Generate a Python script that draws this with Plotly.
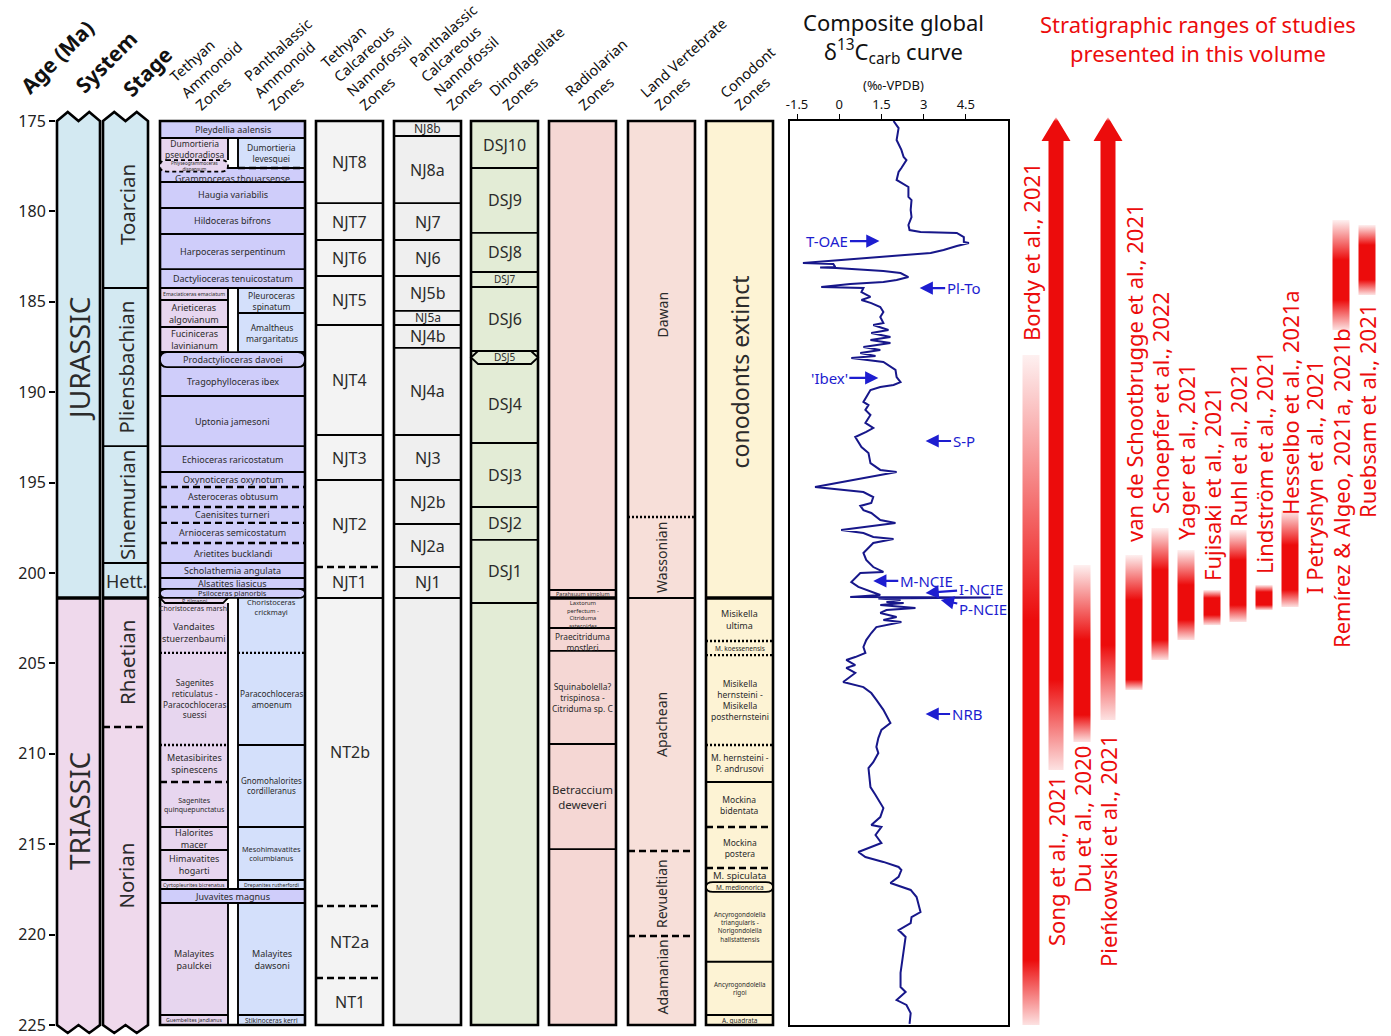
import math
import plotly.graph_objects as go

W, H = 1391, 1036

# ---------------------------------------------------------------- data
age_ticks = [175, 180, 185, 190, 195, 200, 205, 210, 215, 220, 225]
d13c_ticks = [-1.5, 0, 1.5, 3, 4.5]
d13c_tick_text = ["-1.5", "0", "1.5", "3", "4.5"]

# boundary codes: s solid, S heavy, d dashed, o dotted, n none
systems = [("JURASSIC", 175.0, 201.38), ("TRIASSIC", 201.38, 225.0)]
stages = [("Toarcian", 175.0, 184.24, "s"), ("Pliensbachian", 184.24, 192.98, "s"),
          ("Sinemurian", 192.98, 199.45, "s"), ("Hett.", 199.45, 201.38, "S"),
          ("Rhaetian", 201.38, 208.52, "d"), ("Norian", 208.52, 225.0, "s")]

amm_full = [
    ("Pleydellia aalensis", 175.0, 175.94, "s"),
    ("Grammoceras thouarsense", 177.6, 178.37, "s"),
    ("Haugia variabilis", 178.37, 179.81, "s"),
    ("Hildoceras bifrons", 179.81, 181.25, "s"),
    ("Harpoceras serpentinum", 181.25, 183.19, "s"),
    ("Dactylioceras tenuicostatum", 183.19, 184.24, "s"),
    ("Prodactylioceras davoei", 187.78, 188.61, "s"),
    ("Tragophylloceras ibex", 188.61, 190.21, "s"),
    ("Uptonia jamesoni", 190.21, 192.98, "s"),
    ("Echioceras raricostatum", 192.98, 194.41, "s"),
    ("Oxynoticeras oxynotum", 194.41, 195.24, "d"),
    ("Asteroceras obtusum", 195.24, 196.35, "d"),
    ("Caenisites turneri", 196.35, 197.23, "d"),
    ("Arnioceras semicostatum", 197.23, 198.34, "d"),
    ("Arietites bucklandi", 198.34, 199.45, "s"),
    ("Scholathemia angulata", 199.45, 200.28, "s"),
    ("Alsatites liasicus", 200.28, 200.88, "s"),
    ("Psiloceras planorbis", 200.88, 201.38, "s"),
    ("Juvavites magnus", 217.48, 218.25, "s"),
]
amm_tethyan = [
    ("Dumortieria<br>pseudoradiosa", 175.94, 177.16, "n"),
    ("Phlyseogrammoceras<br>dispansum", 177.16, 177.8, "n"),
    ("Emaciaticeras emaciatum", 184.24, 184.9, "s"),
    ("Arieticeras<br>algovianum", 184.9, 186.39, "s"),
    ("Fuciniceras<br>lavinianum", 186.39, 187.78, "s"),
    ("P. tilmanni", 201.38, 201.66, "s"),
    ("Choristoceras marshi", 201.66, 202.16, "n"),
    ("Vandaites<br>stuerzenbaumi", 202.16, 204.42, "o"),
    ("Sagenites<br>reticulatus -<br>Paracochloceras<br>suessi", 204.42, 209.51, "o"),
    ("Metasibirites<br>spinescens", 209.51, 211.56, "d"),
    ("Sagenites<br>quinquepunctatus", 211.56, 214.05, "s"),
    ("Halorites<br>macer", 214.05, 215.32, "s"),
    ("Himavatites<br>hogarti", 215.32, 216.98, "s"),
    ("Cyrtopleurites bicrenatus", 216.98, 217.48, "s"),
    ("Malayites<br>paulckei", 218.25, 224.45, "s"),
    ("Guembelites jandianus", 224.45, 225.0, "s"),
]
amm_panth = [
    ("Dumortieria<br>levesquei", 175.94, 177.6, "d"),
    ("Pleuroceras<br>spinatum", 184.24, 185.62, "s"),
    ("Amaltheus<br>margaritatus", 185.62, 187.78, "s"),
    ("Choristoceras<br>crickmayi", 201.38, 204.42, "o"),
    ("Paracochloceras<br>amoenum", 204.42, 209.51, "s"),
    ("Gnomohalorites<br>cordilleranus", 209.51, 214.05, "s"),
    ("Mesohimavatites<br>columbianus", 214.05, 216.98, "s"),
    ("Drepanites rutherfordi", 216.98, 217.48, "s"),
    ("Malayites<br>dawsoni", 218.25, 224.45, "s"),
    ("Stikinoceras kerri", 224.45, 225.0, "s"),
]
nanno_tethyan = [
    ("NJT8", 175.0, 179.54, "s"), ("NJT7", 179.54, 181.58, "s"), ("NJT6", 181.58, 183.57, "s"),
    ("NJT5", 183.57, 186.28, "s"), ("NJT4", 186.28, 192.37, "s"), ("NJT3", 192.37, 194.86, "s"),
    ("NJT2", 194.86, 199.67, "d"), ("NJT1", 199.67, 201.38, "s"), ("NT2b", 201.38, 218.42, "d"),
    ("NT2a", 218.42, 222.4, "d"), ("NT1", 222.4, 225.0, "s"),
]
nanno_panth = [
    ("NJ8b", 175.0, 175.83, "s"), ("NJ8a", 175.83, 179.54, "s"), ("NJ7", 179.54, 181.58, "s"),
    ("NJ6", 181.58, 183.57, "s"), ("NJ5b", 183.57, 185.5, "s"), ("NJ5a", 185.5, 186.28, "s"),
    ("NJ4b", 186.28, 187.55, "s"), ("NJ4a", 187.55, 192.37, "s"), ("NJ3", 192.37, 194.86, "s"),
    ("NJ2b", 194.86, 197.29, "s"), ("NJ2a", 197.29, 199.67, "s"), ("NJ1", 199.67, 201.38, "s"),
]
dino = [
    ("DSJ10", 175.0, 177.6, "s"), ("DSJ9", 177.6, 181.19, "s"), ("DSJ8", 181.19, 183.35, "s"),
    ("DSJ7", 183.35, 184.18, "s"), ("DSJ6", 184.18, 187.72, "s"), ("DSJ5", 187.72, 188.44, "s"),
    ("DSJ4", 188.44, 192.81, "s"), ("DSJ3", 192.81, 196.35, "s"), ("DSJ2", 196.35, 198.17, "s"),
    ("DSJ1", 198.17, 201.66, "s"),
]
radiolarian = [
    ("Parahsuum simplum", 200.94, 201.38, "S"),
    ("Laxtorum<br>perfectum -<br>Citriduma<br>asteroides", 201.38, 203.04, "s"),
    ("Praecitriduma<br>mostleri", 203.04, 204.31, "s"),
    ("Squinabolella?<br>trispinosa -<br>Citriduma sp. C", 204.31, 209.46, "s"),
    ("Betraccium<br>deweveri", 209.46, 215.27, "s"),
]
land_vertebrate = [
    ("Dawan", 175.0, 196.9, "o"), ("Wassonian", 196.9, 201.38, "s"),
    ("Apachean", 201.38, 215.38, "d"), ("Revueltian", 215.38, 220.08, "d"),
    ("Adamanian", 220.08, 225.0, "s"),
]
conodont = [
    ("conodonts extinct", 175.0, 201.38, "S"),
    ("Misikella<br>ultima", 201.38, 203.76, "o"),
    ("M. koessenensis", 203.76, 204.54, "o"),
    ("Misikella<br>hernsteini -<br>Misikella<br>posthernsteini", 204.54, 209.51, "o"),
    ("M. hernsteini -<br>P. andrusovi", 209.51, 211.56, "s"),
    ("Mockina<br>bidentata", 211.56, 214.05, "d"),
    ("Mockina<br>postera", 214.05, 216.32, "d"),
    ("M. spiculata", 216.32, 217.1, "n"),
    ("M. medionorica", 217.1, 217.64, "n"),
    ("Ancyrogondolella<br>triangularis -<br>Norigondolella<br>hallstattensis", 217.64, 221.5, "s"),
    ("Ancyrogondolella<br>rigoi", 221.5, 224.45, "s"),
    ("A. quadrata", 224.45, 225.0, "s"),
]

# composite carbonate carbon-isotope curve
curve_age = [
    175.00, 175.39, 176.05, 176.60, 176.99, 177.16, 177.60, 177.82, 178.26, 178.43,
    178.65, 179.20, 179.37, 179.92, 180.31, 180.75, 181.03, 181.14, 181.19, 181.42,
    181.69, 181.75, 181.91, 182.13, 182.30, 182.85, 182.91, 183.08, 183.10, 183.13,
    183.30, 183.41, 183.63, 183.79, 183.90, 184.02, 184.18, 184.24, 184.46, 184.73,
    184.90, 185.07, 185.29, 185.56, 185.84, 186.17, 186.28, 186.56, 186.73, 186.95,
    187.11, 187.28, 187.50, 187.67, 187.83, 188.00, 188.11, 188.33, 188.61, 188.77,
    189.16, 189.44, 189.60, 189.71, 189.88, 190.27, 190.54, 190.71, 190.98, 191.26,
    191.70, 191.98, 192.20, 192.48, 193.03, 193.36, 193.92, 194.30, 194.41, 195.24,
    195.52, 195.80, 196.13, 196.29, 196.52, 196.68, 197.07, 197.23, 197.62, 197.79,
    198.01, 198.12, 198.34, 198.89, 199.28, 199.67, 199.94, 200.00, 200.50, 200.77,
    201.05, 201.22, 201.33, 201.36, 201.41, 201.49, 201.60, 201.66, 201.77, 201.94,
    202.05, 202.21, 202.43, 202.60, 202.71, 202.99, 203.32, 203.71, 204.09, 204.42,
    204.65, 204.81, 205.09, 205.25, 205.53, 206.03, 206.31, 206.64, 207.02, 207.57,
    208.30, 208.68, 209.13, 209.62, 209.96, 210.46, 210.79, 211.84, 212.28, 213.00,
    213.50, 213.94, 214.05, 214.49, 214.93, 215.32, 215.43, 215.71, 215.98, 216.26,
    216.43, 216.81, 217.15, 217.53, 217.92, 218.75, 219.03, 219.36, 219.75, 220.13,
    221.02, 222.12, 222.90, 223.17, 223.62, 223.89, 224.34, 224.94,
]
curve_d13c = [
    1.93, 2.11, 2.04, 2.21, 2.29, 2.39, 2.21, 2.11, 2.04, 2.21,
    2.46, 2.46, 2.57, 2.54, 2.57, 2.46, 2.50, 2.89, 4.18, 4.43,
    4.43, 4.61, 4.18, 3.71, 3.25, -1.29, -0.21, -0.14, -0.68, -0.11,
    1.57, 2.18, 2.46, 2.04, 1.57, 0.39, -0.64, 0.86, 0.79, 1.11,
    0.79, 1.14, 1.46, 1.57, 1.46, 1.57, 1.21, 1.75, 1.14, 1.82,
    1.11, 1.82, 0.86, 1.46, 0.75, 1.29, 0.43, 1.57, 1.82, 2.00,
    2.04, 2.18, 1.93, 1.46, 1.11, 0.96, 0.86, 1.04, 0.93, 1.11,
    0.93, 1.21, 0.96, 0.57, 0.79, 1.04, 1.11, 1.46, 2.04, -0.86,
    0.86, 1.21, 1.14, 0.75, 0.86, 1.14, 1.46, 2.00, 0.07, 0.86,
    1.21, 1.93, 1.21, 0.86, 0.96, 1.21, 1.57, 0.75, 0.43, 0.68,
    1.21, 1.46, 0.39, 5.39, 1.39, 2.18, 1.68, 2.29, 1.46, 2.71,
    1.68, 1.46, 2.04, 1.57, 2.21, 1.32, 1.14, 0.96, 0.86, 0.93,
    0.57, 0.25, 0.57, 0.25, 0.57, 0.14, 0.86, 1.14, 1.32, 1.57,
    1.82, 1.50, 1.39, 1.32, 1.39, 1.21, 1.04, 1.11, 1.29, 1.57,
    1.46, 1.14, 1.50, 1.29, 1.50, 0.86, 0.68, 0.93, 1.57, 2.11,
    2.21, 2.11, 1.82, 2.54, 2.75, 2.89, 2.57, 2.54, 2.11, 2.36,
    2.29, 2.18, 2.18, 2.36, 2.04, 2.39, 2.54, 2.50,
]

event_labels = ["T-OAE", "Pl-To", "'Ibex'", "S-P", "M-NCIE", "I-NCIE", "P-NCIE", "NRB"]
event_age = [181.64, 184.24, 189.21, 192.70, 200.44, 201.10, 201.49, 207.80]
event_d13c = [1.43, 2.86, 1.39, 3.07, 1.21, 3.07, 3.61, 3.07]

study_names = ["Bordy et al., 2021", "Song et al., 2021", "Du et al., 2020",
               "Pieńkowski et al., 2021", "van de Schootbrugge et al., 2021",
               "Schoepfer et al., 2022", "Yager et al., 2021", "Fujisaki et al., 2021",
               "Ruhl et al., 2021", "Lindström et al., 2021", "Hesselbo et al., 2021a",
               "I Petryshyn et al., 2021", "Remírez & Algeo, 2021a, 2021b", "Ruebsam et al., 2021"]
study_top = [187.94, 175.0, 199.56, 175.0, 199.0, 197.51, 198.73, 200.94, 197.62, 200.66, 196.52, None, 180.48, 180.75]
study_full_from = [202.6, 175.0, 203.71, 175.0, 201.49, 199.83, 200.66, 201.38, 199.28, 201.05, 198.45, None, 182.69, 181.86]
study_full_to = [221.4, 205.9, 207.85, 204.0, 205.9, 203.71, 202.6, 202.32, 201.77, 201.77, 200.94, None, 184.9, 183.79]
study_base = [225.0, 210.9, 209.35, 208.13, 206.47, 204.81, 203.71, 202.88, 202.71, 202.05, 201.88, None, 186.56, 184.62]
study_open_top = [False, True, False, True, False, False, False, False, False, False, False, False, False, False]

# ---------------------------------------------------------------- layout helpers
FONT = "Noto Sans"
INK = "#2b2b2b"
BLUE = "#1d1dd0"
RED = "236,12,12"
CLEAR = "rgba(0,0,0,0)"

PX_TOP, PX_BASE = 121.0, 1025.0
AGE_TOP, AGE_BASE = 175.0, 225.0
SCALE = (PX_BASE - PX_TOP) / (AGE_BASE - AGE_TOP)


def A(p):
    """pixel row -> position on the shared age scale"""
    return AGE_TOP + (p - PX_TOP) / SCALE


shapes, notes = [], []
LINE_KINDS = {"s": (1.9, "solid"), "S": (3.4, "solid"), "d": (2.4, "7px,4px"), "o": (2.4, "2px,2px")}


def rect(x0, x1, a0, a1, fill=CLEAR, color=CLEAR, width=0):
    shapes.append(dict(type="rect", xref="x", yref="y", x0=x0, x1=x1, y0=a0, y1=a1,
                       fillcolor=fill, line=dict(color=color, width=width), layer="above"))


def path(d, fill=CLEAR, color=CLEAR, width=0, dash="solid"):
    shapes.append(dict(type="path", xref="x", yref="y", path=d, fillcolor=fill,
                       line=dict(color=color, width=width, dash=dash), layer="above"))


def seg(x0, a0, x1, a1, kind="s"):
    if kind not in LINE_KINDS:
        return
    w, dash = LINE_KINDS[kind]
    shapes.append(dict(type="line", xref="x", yref="y", x0=x0, y0=a0, x1=x1, y1=a1,
                       line=dict(color="black", width=w, dash=dash), layer="above"))


def note(x, a, txt, size, angle=0, color=INK):
    notes.append(dict(xref="x", yref="y", x=x, y=a, text=txt, showarrow=False, textangle=angle,
                      xanchor="center", yanchor="middle",
                      font=dict(family=FONT, size=size, color=color)))


def text_width(s, size):
    w = 0.0
    for ch in s:
        if ch in "ilIjt.,'|fr ":
            w += 0.31
        elif ch in "mwMW":
            w += 0.88
        elif ch.isupper():
            w += 0.66
        else:
            w += 0.57
    return w * size


def slanted_heading(lines, sx, sy, size, angle, spacing, color="#111111"):
    """left-aligned multi-line heading; (sx, sy) is where the last line starts"""
    th = math.radians(angle)
    ux, uy = math.cos(th), -math.sin(th)
    vx, vy = math.sin(th), math.cos(th)
    n = len(lines)
    for i, line in enumerate(lines):
        k = n - 1 - i
        x0, y0 = sx - k * spacing * vx, sy - k * spacing * vy
        half = text_width(line, size) / 2
        note(x0 + half * ux, A(y0 + half * uy), line, size, -angle, color)


OUTLINES = {"Prodactylioceras davoei": "cap", "Psiloceras planorbis": "cap",
            "Phlyseogrammoceras<br>dispansum": "cap-", "DSJ5": "hex",
            "M. medionorica": "cap", "P. tilmanni": "trap"}


def outline_path(style, x0, x1, a0, a1):
    am = (a0 + a1) / 2
    r = 7
    if style == "hex":
        return f"M {x0+r},{a0} L {x1-r},{a0} L {x1},{am} L {x1-r},{a1} L {x0+r},{a1} L {x0},{am} Z"
    if style == "trap":
        return f"M {x0},{a0} L {x1},{a0} L {x1-5},{a1} L {x0+5},{a1} Z"
    return (f"M {x0+r},{a0} L {x1-r},{a0} Q {x1},{a0} {x1},{am} Q {x1},{a1} {x1-r},{a1} "
            f"L {x0+r},{a1} Q {x0},{a1} {x0},{am} Q {x0},{a0} {x0+r},{a0} Z")


def draw_column(x0, x1, groups, background=None):
    """groups: (zones, gx0, gx1, fill, side_lines, full_width)"""
    if background:
        rect(x0, x1, AGE_TOP, AGE_BASE, background)
    all_bases = {round(z[2], 2) for g in groups for z in g[0]}
    for zones, gx0, gx1, fill, sides, full in groups:
        for name, top, base, kind in zones:
            if name not in OUTLINES:
                rect(gx0, gx1, top, base, fill)
    for zones, gx0, gx1, fill, sides, full in groups:
        known = {round(z[2], 2) for z in zones} if full else all_bases
        for name, top, base, kind in zones:
            if name in OUTLINES:
                continue
            if base < AGE_BASE - 0.01:
                seg(gx0, base, gx1, base, kind)
            if top > AGE_TOP + 0.01 and round(top, 2) not in known:
                seg(gx0, top, gx1, top, "s")
            for sx in sides:
                seg(sx, top, sx, base, "s")
    rect(x0, x1, AGE_TOP, AGE_BASE, color="black", width=2.6)
    for zones, gx0, gx1, fill, sides, full in groups:
        for name, top, base, kind in zones:
            if name in OUTLINES:
                style = OUTLINES[name]
                path(outline_path(style.rstrip("-"), gx0, gx1, top, base), fill, "black", 1.8,
                     "4px,3px" if style.endswith("-") else "solid")


def label_column(groups, default, sizes=None, rotated=(), nudges=None):
    sizes = sizes or {}
    nudges = nudges or {}
    for zones, gx0, gx1, fill, sides, full in groups:
        for name, top, base, kind in zones:
            a = nudges.get(name, (top + base) / 2)
            note((gx0 + gx1) / 2, a, name, sizes.get(name, default), -90 if name in rotated else 0)


# ---------------------------------------------------------------- system & stage columns
JUR_C, TRI_C = "#d3e9f2", "#efd9ec"


def zig_column(x0, x1):
    w = x1 - x0
    xs = [x0, x0 + w / 4, x0 + w / 2, x0 + 3 * w / 4, x1]
    top = [A(121), A(112), A(121), A(112), A(121)]
    bot = [A(1025), A(1033), A(1025), A(1033), A(1025)]
    jt = systems[0][2]
    d_top = " ".join(f"L {x},{a}" for x, a in zip(xs, top))
    d_bot = " ".join(f"L {x},{a}" for x, a in zip(reversed(xs), reversed(bot)))
    path(f"M {x0},{jt} {d_top} L {x1},{jt} Z", JUR_C)
    path(f"M {x0},{jt} L {x1},{jt} {d_bot} Z", TRI_C)
    return f"M {xs[0]},{top[0]} {d_top} {d_bot} Z"


sys_x, stg_x = (57, 100), (103, 148)
outline_sys = zig_column(*sys_x)
outline_stg = zig_column(*stg_x)
for name, top, base in systems:
    note(sum(sys_x) / 2 + 1, (top + base) / 2, name, 28, -90)
    if base < AGE_BASE:
        seg(sys_x[0], base, sys_x[1], base, "S")
for name, top, base, kind in stages:
    note(sum(stg_x) / 2 + 1, (top + base) / 2, name, 18 if name == "Hett." else 20.5,
         0 if name == "Hett." else -90)
    if base < AGE_BASE:
        seg(stg_x[0], base, stg_x[1], base, kind)
path(outline_sys, color="black", width=2.6)
path(outline_stg, color="black", width=2.6)

# ---------------------------------------------------------------- biozone columns
AMM_FULL, AMM_TET, AMM_PAN = "#cfcdfa", "#e7d6ef", "#d4e0fb"
amm_groups = [(amm_full, 160, 305, AMM_FULL, (), True),
              (amm_tethyan, 160, 228, AMM_TET, (228,), False),
              (amm_panth, 238, 305, AMM_PAN, (238,), False)]
draw_column(160, 305, amm_groups)
label_column(amm_groups, 9, sizes={
    "Phlyseogrammoceras<br>dispansum": 4.6, "Emaciaticeras emaciatum": 5.2, "P. tilmanni": 5.2,
    "Choristoceras marshi": 7, "Cyrtopleurites bicrenatus": 5.2, "Drepanites rutherfordi": 5.2,
    "Guembelites jandianus": 5.2, "Stikinoceras kerri": 6.5, "Choristoceras<br>crickmayi": 7.5,
    "Sagenites<br>quinquepunctatus": 7, "Mesohimavatites<br>columbianus": 7.3,
    "Psiloceras planorbis": 7.3, "Dumortieria<br>pseudoradiosa": 8.5, "Dumortieria<br>levesquei": 8.5,
    "Pleuroceras<br>spinatum": 8.5, "Amaltheus<br>margaritatus": 8.5,
    "Sagenites<br>reticulatus -<br>Paracochloceras<br>suessi": 8.3, "Paracochloceras<br>amoenum": 8.3,
    "Gnomohalorites<br>cordilleranus": 8,
}, nudges={"Choristoceras<br>crickmayi": A(607), "Choristoceras marshi": A(608.5),
           "Grammoceras thouarsense": A(178), "Phlyseogrammoceras<br>dispansum": A(165.5),
           "P. tilmanni": A(601.3), "Psiloceras planorbis": A(593)})

nt_groups = [(nanno_tethyan, 316, 383, "#f3f3f3", (), True)]
draw_column(316, 383, nt_groups, "#f3f3f3")
label_column(nt_groups, 16)

np_groups = [(nanno_panth, 394, 461, "#efefef", (), True)]
draw_column(394, 461, np_groups, "#efefef")
label_column(np_groups, 16, sizes={"NJ8b": 12, "NJ5a": 12})

dn_groups = [(dino, 471, 538, "#e3ecd6", (), True)]
draw_column(471, 538, dn_groups, "#e3ecd6")
label_column(dn_groups, 16, sizes={"DSJ7": 10, "DSJ5": 10})

rd_groups = [(radiolarian, 549, 616, "#f5d7d4", (), True)]
draw_column(549, 616, rd_groups, "#f5d7d4")
label_column(rd_groups, 8.5, sizes={
    "Parahsuum simplum": 5.5, "Laxtorum<br>perfectum -<br>Citriduma<br>asteroides": 5.8,
    "Praecitriduma<br>mostleri": 8.3, "Betraccium<br>deweveri": 11.5},
    nudges={"Laxtorum<br>perfectum -<br>Citriduma<br>asteroides": A(614),
            "Praecitriduma<br>mostleri": A(641.5)})

lv_groups = [(land_vertebrate, 628, 695, "#f7dfd9", (), True)]
draw_column(628, 695, lv_groups, "#f7dfd9")
label_column(lv_groups, 14, rotated=[z[0] for z in land_vertebrate],
             nudges={"Dawan": A(315), "Adamanian": A(977)})

cd_groups = [(conodont, 706, 773, "#fdf3d4", (), True)]
draw_column(706, 773, cd_groups, "#fdf3d4")
label_column(cd_groups, 8.5, sizes={
    "conodonts extinct": 23, "Misikella<br>ultima": 9, "M. koessenensis": 6.5, "M. spiculata": 9.5,
    "M. medionorica": 6.5, "Ancyrogondolella<br>triangularis -<br>Norigondolella<br>hallstattensis": 6.3,
    "Ancyrogondolella<br>rigoi": 6.3, "A. quadrata": 6.5},
    rotated=["conodonts extinct"], nudges={"conodonts extinct": A(372)})

# ---------------------------------------------------------------- column headings
for txt, x, py in [("<b>Age (Ma)</b>", 57, 57), ("<b>System</b>", 106, 62), ("<b>Stage</b>", 147, 72)]:
    note(x, A(py), txt, 21, -45, color="#111111")

slanted = [
    (["Tethyan", "Ammonoid", "Zones"], 197, 107),
    (["Panthalassic", "Ammonoid", "Zones"], 270, 107),
    (["Tethyan", "Calcareous", "Nannofossil", "Zones"], 361, 107),
    (["Panthalassic", "Calcareous", "Nannofossil", "Zones"], 448, 107),
    (["Dinoflagellate", "Zones"], 504, 107),
    (["Radiolarian", "Zones"], 580, 107),
    (["Land Vertebrate", "Zones"], 656, 107),
    (["Conodont", "Zones"], 736, 107),
]
for lines, sx, sy in slanted:
    slanted_heading(lines, sx, sy, 14.5, 42, 19)

note(893, A(38), "Composite global<br>δ<sup>13</sup>C<sub>carb</sub> curve", 22, color="#111111")
note(893, A(85), "(‰-VPDB)", 13, color="#111111")
note(1198, A(38), "Stratigraphic ranges of studies<br>presented in this volume", 22, color=f"rgb({RED})")

# ---------------------------------------------------------------- carbon-isotope curve
fig = go.Figure()
fig.add_trace(go.Scatter(x=curve_d13c, y=curve_age, xaxis="x2", yaxis="y2", mode="lines",
                         line=dict(color="#17178a", width=2), hoverinfo="skip"))

event_offsets = [(-52, 0), (44, 0), (-49, 0), (38, 0), (53, 0), (55, -4), (42, 9), (41, 0)]
for lab, a, v, (dx, dy) in zip(event_labels, event_age, event_d13c, event_offsets):
    notes.append(dict(xref="x2", yref="y2", x=v, y=a, text=lab, showarrow=True, arrowhead=2,
                      arrowsize=1.2, arrowwidth=2.2, arrowcolor=BLUE, ax=dx, ay=dy,
                      font=dict(family=FONT, size=15, color=BLUE)))

# ---------------------------------------------------------------- study ranges
bar_x = [1031, 1056, 1082, 1108, 1134, 1160, 1186, 1212, 1238, 1264, 1290, 1314, 1341, 1367]
label_py = [252, 861, 820, 851, 373, 403, 452, 484, 445, 463, 403, 477, 488, 411]
for name, xc, top, f0, f1, base, open_top, lp in zip(study_names, bar_x, study_top, study_full_from,
                                                     study_full_to, study_base, study_open_top, label_py):
    note(xc, A(lp), name, 22, -90, color=f"rgb({RED})")
    if top is None:
        continue
    half = 8.5
    if open_top:
        half = 7.5
        tip, hb, hx = A(117), A(141), 14.5
        xs = [xc - half, xc - hx, xc, xc + hx, xc + half, xc + half, xc - half, xc - half]
        ys = [hb, hb, tip, hb, hb, base, base, hb]
        start = tip
    else:
        xs = [xc - half, xc + half, xc + half, xc - half, xc - half]
        ys = [top, top, base, base, top]
        start = top
    span = base - start
    stops = []
    if f0 > start + 1e-6:
        stops.append([0.0, f"rgba({RED},0.06)"])
    stops.append([max(0.0, (f0 - start) / span), f"rgba({RED},1)"])
    stops.append([(f1 - start) / span, f"rgba({RED},1)"])
    if base > f1 + 1e-6:
        stops.append([1.0, f"rgba({RED},0.12)"])
    fig.add_trace(go.Scatter(x=xs, y=ys, mode="lines", fill="toself", line=dict(width=0),
                             fillgradient=dict(type="vertical", colorscale=stops, start=start, stop=base),
                             hoverinfo="skip", xaxis="x", yaxis="y"))

# ---------------------------------------------------------------- axes
fig.update_layout(
    width=W, height=H, autosize=False, showlegend=False,
    margin=dict(l=0, r=0, t=0, b=0),
    paper_bgcolor="white", plot_bgcolor="white",
    shapes=shapes, annotations=notes,
    xaxis=dict(range=[0, W], domain=[0, 1], visible=False, fixedrange=True),
    yaxis=dict(range=[A(H), A(0)], domain=[0, 1], anchor="free", position=55 / W,
               tickvals=age_ticks, ticks="outside", ticklen=6, tickwidth=2, tickcolor="black",
               showline=False, showgrid=False, zeroline=False, automargin=False,
               tickfont=dict(family=FONT, size=16, color="#222222")),
    xaxis2=dict(domain=[790 / W, 1008 / W], range=[-1.75, 6.0], anchor="y2", side="top",
                tickvals=d13c_ticks, ticktext=d13c_tick_text, ticks="outside", ticklen=5,
                tickcolor="black", showline=True, mirror=True, linecolor="black", linewidth=2,
                showgrid=False, zeroline=False, automargin=False,
                tickfont=dict(family=FONT, size=13, color="#111111")),
    yaxis2=dict(domain=[(H - PX_BASE) / H, (H - PX_TOP) / H], range=[AGE_BASE, AGE_TOP], anchor="x2",
                showline=True, mirror=True, linecolor="black", linewidth=2, showticklabels=False,
                ticks="", showgrid=False, zeroline=False, automargin=False),
)

fig.write_html("out.html")
